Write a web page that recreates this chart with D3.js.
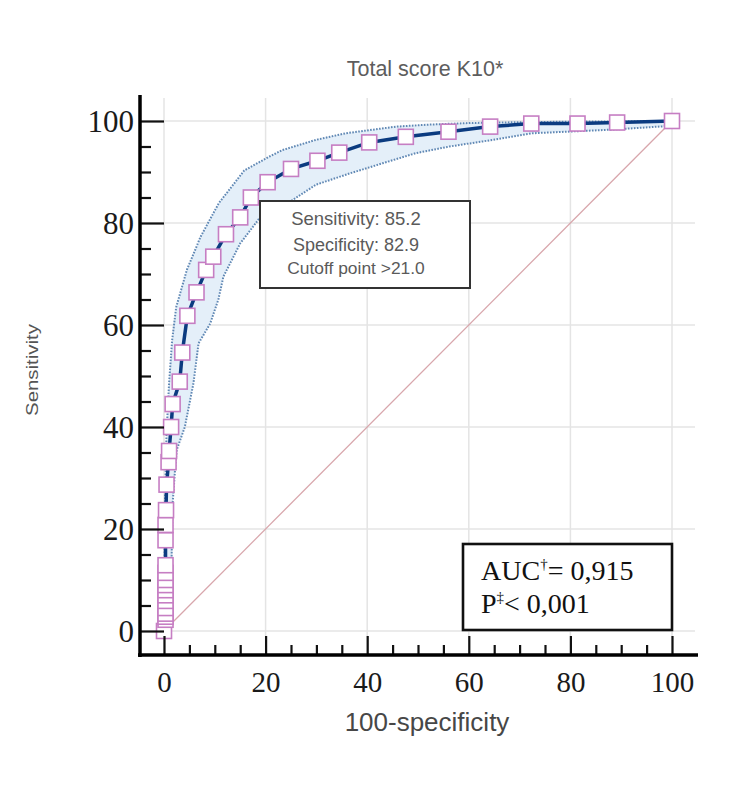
<!DOCTYPE html>
<html>
<head>
<meta charset="utf-8">
<script src="https://cdn.jsdelivr.net/npm/d3@7"></script>
<style>
  html, body { margin: 0; padding: 0; background: #fff; }
  svg { display: block; }
</style>
</head>
<body>
<svg id="chart" width="732" height="786"></svg>
<script>
// ---- Data ----
const fpr  = [0, 0.3, 0.3, 0.3, 0.3, 0.3, 0.3, 0.3, 0.3, 0.3, 0.3, 0.3, 0.3, 0.3, 0.4, 0.5, 0.9, 1.0, 1.4, 1.7, 3.1, 3.6, 4.6, 6.4, 8.3, 9.7, 12.2, 15.0, 17.1, 20.4, 25.0, 30.2, 34.5, 40.4, 47.6, 56.0, 64.2, 72.3, 81.4, 89.2, 100];
const sens = [0, 2.2, 2.8, 3.4, 4.5, 5.9, 7.0, 8.0, 9.0, 10.0, 11.4, 12.9, 17.8, 20.8, 23.7, 28.7, 33.1, 35.3, 40.0, 44.5, 48.9, 54.6, 61.8, 66.4, 70.8, 73.4, 77.8, 81.1, 85.0, 88.0, 90.6, 92.2, 93.8, 95.8, 96.9, 97.9, 98.9, 99.5, 99.5, 99.7, 100];

const upperX = [0, 0.1, 0.2, 0.5, 1.0, 1.6, 2.4, 4.5, 7.2, 10.8, 15.8, 20.7, 23.3, 29.9, 35.8, 45.7, 52.3, 60, 72, 100];
const upperY = [0, 12, 25.7, 38.8, 48.6, 57, 63.5, 70.8, 77.3, 83.9, 90.3, 93, 94.3, 96.3, 97.6, 98.9, 99.3, 99.6, 99.8, 100];
const lowerX = [0, 0.8, 1.5, 1.7, 2.2, 2.5, 4.1, 5.8, 6.8, 9.1, 10.7, 11.7, 15.0, 19.0, 25.3, 29.9, 36.5, 43.0, 49.6, 56.2, 62.8, 72.6, 88.0, 99.0, 100];
const lowerY = [0, 6, 14.6, 25, 32, 35.5, 40, 48.6, 56.4, 60.3, 65, 69.5, 76, 81.2, 84.5, 87.5, 89.7, 91.7, 93.7, 95, 96, 97.6, 98.3, 99, 100];

const majorTicks = [0, 20, 40, 60, 80, 100];
const minorTicks = d3.range(0, 101, 5).filter(v => v % 20 !== 0);

const titleText = "Total score K10*";
const xLabel = "100-specificity";
const yLabel = "Sensitivity";
const cutoffLines = ["Sensitivity: 85.2", "Specificity: 82.9", "Cutoff point >21.0"];

// ---- Setup ----
const svg = d3.select("#chart");
const x = d3.scaleLinear().domain([0, 100]).range([164, 672]);
const y = d3.scaleLinear().domain([0, 100]).range([631, 121]);
const axisX0 = 140, axisY0 = 655;
const serif = "'Liberation Serif', 'Times New Roman', serif";
const sans = "'Liberation Sans', Arial, sans-serif";

// grid
const grid = svg.append("g").attr("stroke", "#e4e4e4").attr("stroke-width", 1.5);
grid.selectAll(".gv").data(majorTicks).join("line")
  .attr("x1", d => x(d)).attr("x2", d => x(d))
  .attr("y1", 98).attr("y2", axisY0);
grid.selectAll(".gh").data(majorTicks).join("line")
  .attr("x1", axisX0).attr("x2", 695)
  .attr("y1", d => y(d)).attr("y2", d => y(d));

// diagonal reference
svg.append("line")
  .attr("x1", x(0)).attr("y1", y(0)).attr("x2", x(100)).attr("y2", y(100))
  .attr("stroke", "#d8a6ac").attr("stroke-width", 1.3);

// confidence band
const upper = upperX.map((v, i) => [v, upperY[i]]);
const lower = lowerX.map((v, i) => [v, lowerY[i]]);
const bandPts = upper.concat(lower.slice().reverse());
svg.append("path")
  .attr("d", d3.line().x(d => x(d[0])).y(d => y(d[1]))(bandPts) + "Z")
  .attr("fill", "#e4eff9").attr("stroke", "none");
[upper, lower].forEach(b => {
  svg.append("path")
    .attr("d", d3.line().x(d => x(d[0])).y(d => y(d[1]))(b))
    .attr("fill", "none").attr("stroke", "#6088b4")
    .attr("stroke-width", 2).attr("stroke-dasharray", "1.6,1.4");
});

// ROC curve
const pts = fpr.map((v, i) => [v, sens[i]]);
svg.append("path")
  .attr("d", d3.line().x(d => x(d[0])).y(d => y(d[1]))(pts))
  .attr("fill", "none").attr("stroke", "#0b3b80").attr("stroke-width", 3.5)
  .attr("stroke-linejoin", "round");
const sq = 15;
svg.append("g").selectAll("rect").data(pts).join("rect")
  .attr("x", d => x(d[0]) - sq / 2).attr("y", d => y(d[1]) - sq / 2)
  .attr("width", sq).attr("height", sq)
  .attr("fill", "#fff").attr("stroke", "#c67ec3").attr("stroke-width", 1.6);

// axes
const xAxisG = svg.append("g").attr("transform", `translate(0,${axisY0})`);
xAxisG.call(d3.axisBottom(x).tickValues(majorTicks).tickSize(-19).tickPadding(16).tickFormat(d3.format("d")));
const xMinorG = svg.append("g").attr("transform", `translate(0,${axisY0})`);
xMinorG.call(d3.axisBottom(x).tickValues(minorTicks).tickSize(-10).tickFormat(""));
const yAxisG = svg.append("g").attr("transform", `translate(${axisX0},0)`);
yAxisG.call(d3.axisLeft(y).tickValues(majorTicks).tickSize(-24).tickPadding(6).tickFormat(d3.format("d")));
const yMinorG = svg.append("g").attr("transform", `translate(${axisX0},0)`);
yMinorG.call(d3.axisLeft(y).tickValues(minorTicks).tickSize(-11).tickFormat(""));
[xAxisG, xMinorG, yAxisG, yMinorG].forEach(g => {
  g.select(".domain").remove();
  g.selectAll(".tick line").attr("stroke", "#111").attr("stroke-width", 2.2);
  g.selectAll(".tick text").attr("font-family", serif).attr("fill", "#1a1a1a");
});
xAxisG.selectAll(".tick text").attr("font-size", 29);
yAxisG.selectAll(".tick text").attr("font-size", 31).attr("dy", "0.33em");
svg.append("line").attr("x1", axisX0).attr("x2", axisX0).attr("y1", 95).attr("y2", axisY0 + 2)
  .attr("stroke", "#000").attr("stroke-width", 3.5);
svg.append("line").attr("x1", axisX0 - 2).attr("x2", 698).attr("y1", axisY0).attr("y2", axisY0)
  .attr("stroke", "#000").attr("stroke-width", 3.5);

// title & labels
svg.append("text").attr("x", 425).attr("y", 76).attr("text-anchor", "middle")
  .attr("font-family", sans).attr("font-size", 21.5).attr("fill", "#5d5d5d").text(titleText);
svg.append("text").attr("x", 427).attr("y", 731).attr("text-anchor", "middle")
  .attr("font-family", sans).attr("font-size", 26).attr("fill", "#474747").text(xLabel);
svg.append("text").attr("transform", "translate(38,370) rotate(-90)").attr("text-anchor", "middle")
  .attr("font-family", sans).attr("font-size", 16).attr("fill", "#555")
  .attr("textLength", 92).attr("lengthAdjust", "spacingAndGlyphs").text(yLabel);

// cutoff annotation box
svg.append("rect").attr("x", 260).attr("y", 201).attr("width", 210).attr("height", 87)
  .attr("fill", "#fff").attr("stroke", "#333").attr("stroke-width", 2);
const cutY = [225, 251, 274];
const cutSize = [18.5, 18, 17.4];
cutoffLines.forEach((t, i) => {
  svg.append("text").attr("x", 356).attr("y", cutY[i]).attr("text-anchor", "middle")
    .attr("font-family", sans).attr("font-size", cutSize[i]).attr("fill", "#5a5a5a").text(t);
});

// AUC box
svg.append("rect").attr("x", 463).attr("y", 544).attr("width", 209).attr("height", 86)
  .attr("fill", "#fff").attr("stroke", "#111").attr("stroke-width", 2.6);
const auc = svg.append("text").attr("x", 481).attr("y", 580)
  .attr("font-family", serif).attr("font-size", 28).attr("fill", "#111");
auc.append("tspan").text("AUC");
auc.append("tspan").attr("font-size", 15).attr("dy", -11).text("†");
auc.append("tspan").attr("dy", 11).text("= 0,915");
const pv = svg.append("text").attr("x", 481).attr("y", 613)
  .attr("font-family", serif).attr("font-size", 28).attr("fill", "#111");
pv.append("tspan").text("P");
pv.append("tspan").attr("font-size", 15).attr("dy", -11).text("‡");
pv.append("tspan").attr("dy", 11).text("< 0,001");
</script>
</body>
</html>
